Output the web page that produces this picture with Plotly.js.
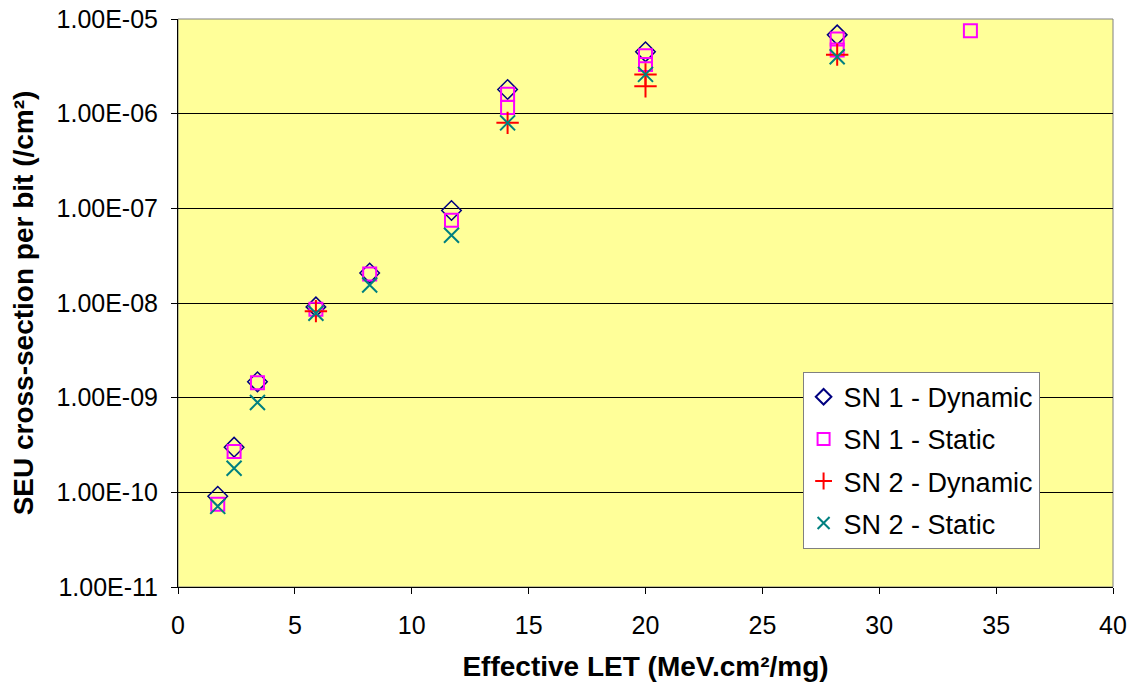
<!DOCTYPE html>
<html>
<head>
<meta charset="utf-8">
<script src="https://cdn.plot.ly/plotly-3.0.1.min.js"></script>
<style>html,body{margin:0;padding:0;background:#fff;}#chart{width:1131px;height:686px;}</style>
</head>
<body>
<div id="chart"></div>
<script>
// SN 1 - Dynamic
const sn1DynX = [1.7, 2.4, 3.4, 5.9, 8.2, 11.7, 14.1, 20.0, 28.2];
const sn1DynY = [9.1e-11, 3.0e-10, 1.47e-9, 9.1e-9, 2.07e-8, 9.5e-8, 1.8e-6, 4.5e-6, 6.8e-6];
// SN 1 - Static
const sn1StaX = [1.7, 2.4, 3.4, 5.9, 8.2, 11.7, 14.1, 14.1, 20.0, 20.0, 28.2, 28.2, 33.9];
const sn1StaY = [7.5e-11, 2.7e-10, 1.44e-9, 8.6e-9, 2.02e-8, 7.5e-8, 1.6e-6, 1.16e-6, 4.1e-6, 3.3e-6, 6.15e-6, 4.7e-6, 7.5e-6];
// SN 2 - Dynamic
const sn2DynX = [5.9, 14.1, 20.0, 20.0, 28.2];
const sn2DynY = [8.2e-9, 8.0e-7, 2.6e-6, 1.95e-6, 4.2e-6];
// SN 2 - Static
const sn2StaX = [1.7, 2.4, 3.4, 5.9, 8.2, 11.7, 14.1, 20.0, 28.2];
const sn2StaY = [7.1e-11, 1.8e-10, 8.9e-10, 7.8e-9, 1.55e-8, 5.2e-8, 8.0e-7, 2.6e-6, 4.0e-6];

const yTickVals = [1e-11, 1e-10, 1e-9, 1e-8, 1e-7, 1e-6, 1e-5];
const yTickText = ["1.00E-11", "1.00E-10", "1.00E-09", "1.00E-08", "1.00E-07", "1.00E-06", "1.00E-05"];

const FONT = "Liberation Sans, Arial, sans-serif";

const traces = [
  {x: sn1DynX, y: sn1DynY, name: "SN 1 - Dynamic", legendgroup: "a", mode: "markers", type: "scatter",
   marker: {symbol: "diamond-open", size: 15, color: "#000080", line: {width: 1.5, color: "#000080"}}},
  {x: sn1StaX, y: sn1StaY, name: "SN 1 - Static", legendgroup: "b", mode: "markers", type: "scatter",
   marker: {symbol: "square-open", size: 13, color: "#FF00FF", line: {width: 2, color: "#FF00FF"}}},
  {x: sn2DynX, y: sn2DynY, name: "SN 2 - Dynamic", legendgroup: "c", mode: "markers", type: "scatter",
   marker: {symbol: "cross-thin", size: 16, color: "#FF0000", line: {width: 2, color: "#FF0000"}}},
  {x: sn2StaX, y: sn2StaY, name: "SN 2 - Static", legendgroup: "d", mode: "markers", type: "scatter",
   marker: {symbol: "x-thin", size: 15, color: "#008080", line: {width: 2, color: "#008080"}}}
];

const layout = {
  width: 1131, height: 686,
  margin: {l: 178, r: 18, t: 19, b: 99},
  paper_bgcolor: "#ffffff",
  plot_bgcolor: "#FFFF99",
  font: {family: FONT, size: 25, color: "#000"},
  showlegend: true,
  legend: {
    x: 0.668, y: 0.379, xanchor: "left", yanchor: "top",
    bgcolor: "#ffffff", bordercolor: "#808080", borderwidth: 1,
    font: {family: FONT, size: 27, color: "#000"},
    tracegroupgap: 4, itemsizing: "constant", itemwidth: 30
  },
  xaxis: {
    range: [0, 40], dtick: 5, tick0: 0,
    showgrid: false, zeroline: false,
    showline: true, linecolor: "#000", linewidth: 1,
    ticks: "outside", ticklen: 6, tickcolor: "#000",
    ticklabelstandoff: 10,
    tickfont: {family: FONT, size: 25, color: "#000"},
    title: {text: "Effective LET (MeV.cm²/mg)", font: {family: FONT, size: 28, color: "#000", weight: "bold"}, standoff: 18}
  },
  yaxis: {
    type: "log", range: [-11, -5],
    tickvals: yTickVals, ticktext: yTickText,
    showgrid: true, gridcolor: "#000", gridwidth: 1,
    zeroline: false,
    showline: true, linecolor: "#000", linewidth: 1,
    ticks: "outside", ticklen: 6, tickcolor: "#000",
    ticklabelstandoff: 8,
    tickfont: {family: FONT, size: 25, color: "#000"},
    title: {text: "SEU cross-section per bit (/cm²)", font: {family: FONT, size: 28, color: "#000", weight: "bold"}, standoff: 14}
  },
  shapes: [
    {type: "rect", xref: "paper", yref: "paper", x0: 0, x1: 1, y0: 0, y1: 1,
     line: {color: "#808080", width: 1}, fillcolor: "rgba(0,0,0,0)", layer: "below"}
  ]
};

Plotly.newPlot("chart", traces, layout, {displayModeBar: false, staticPlot: true});
</script>
</body>
</html>
